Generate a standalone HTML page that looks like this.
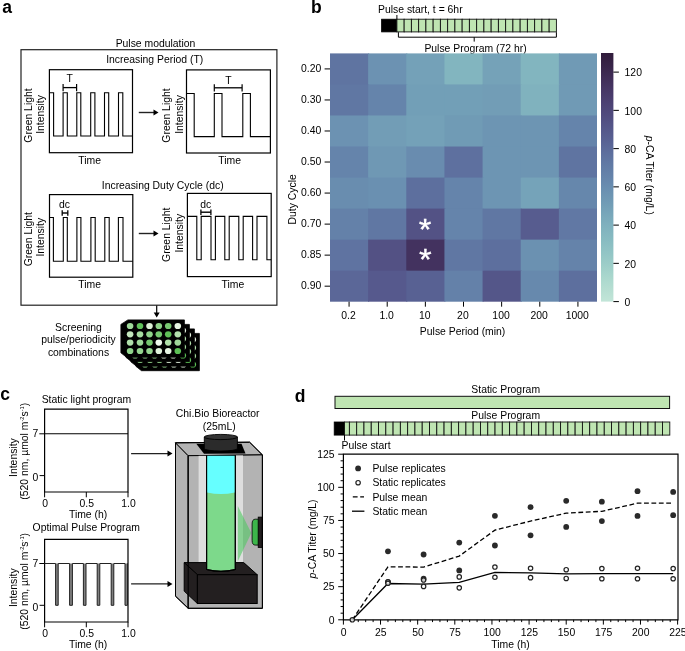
<!DOCTYPE html>
<html><head><meta charset="utf-8"><style>
html,body{margin:0;padding:0;background:#fff;width:685px;height:651px;overflow:hidden}
svg{display:block;will-change:transform}
text{font-family:"Liberation Sans",sans-serif}
</style></head><body>
<svg width="685" height="651" viewBox="0 0 685 651">
<text x="2.30" y="12.90" font-size="17.5" font-weight="bold">a</text>
<text x="155.50" y="46.60" text-anchor="middle" font-size="10.4">Pulse modulation</text>
<rect x="21.00" y="49.70" width="255.90" height="255.50" fill="none" stroke="#222" stroke-width="1.2"/>
<text x="154.70" y="63.00" text-anchor="middle" font-size="10.4">Increasing Period (T)</text>
<rect x="49.40" y="69.70" width="83.10" height="83.00" fill="none" stroke="#000" stroke-width="1.2"/>
<path d="M49.4,92.8 L53.6,92.8 L53.6,136.0 L63.1,136.0 L63.1,92.8 L67.3,92.8 L67.3,136.0 L76.8,136.0 L76.8,92.8 L80.8,92.8 L80.8,136.0 L90.7,136.0 L90.7,92.8 L94.9,92.8 L94.9,136.0 L104.5,136.0 L104.5,92.8 L108.7,92.8 L108.7,136.0 L118.5,136.0 L118.5,92.8 L122.8,92.8 L122.8,136.0 L132.5,136.0" fill="none" stroke="#000" stroke-width="1.1" stroke-linejoin="miter"/>
<line x1="63.10" y1="87.60" x2="76.60" y2="87.60" stroke="#000" stroke-width="1.3"/>
<line x1="63.10" y1="84.00" x2="63.10" y2="91.20" stroke="#000" stroke-width="1.2"/>
<line x1="76.60" y1="84.00" x2="76.60" y2="91.20" stroke="#000" stroke-width="1.2"/>
<text x="69.80" y="82.30" text-anchor="middle" font-size="10.4">T</text>
<text x="89.70" y="164.00" text-anchor="middle" font-size="10.4">Time</text>
<text transform="translate(31.70,115.50) rotate(-90)" text-anchor="middle" font-size="10.4">Green Light</text>
<text transform="translate(44.30,114.50) rotate(-90)" text-anchor="middle" font-size="10.4">Intensity</text>
<line x1="138.80" y1="112.50" x2="154.50" y2="112.50" stroke="#222" stroke-width="1.4"/>
<path d="M153.5,109.5 L158.5,112.5 L153.5,115.5 Z" fill="#000" stroke="none" stroke-width="1"/>
<rect x="186.50" y="69.90" width="83.90" height="83.10" fill="none" stroke="#000" stroke-width="1.2"/>
<path d="M186.5,93.5 L194.2,93.5 L194.2,136.6 L214.3,136.6 L214.3,93.5 L222.0,93.5 L222.0,136.6 L242.8,136.6 L242.8,93.5 L250.4,93.5 L250.4,136.6 L270.4,136.6" fill="none" stroke="#000" stroke-width="1.1" stroke-linejoin="miter"/>
<line x1="214.30" y1="87.80" x2="242.10" y2="87.80" stroke="#000" stroke-width="1.3"/>
<line x1="214.30" y1="84.20" x2="214.30" y2="91.40" stroke="#000" stroke-width="1.2"/>
<line x1="242.10" y1="84.20" x2="242.10" y2="91.40" stroke="#000" stroke-width="1.2"/>
<text x="228.50" y="83.90" text-anchor="middle" font-size="10.4">T</text>
<text x="229.60" y="164.00" text-anchor="middle" font-size="10.4">Time</text>
<text transform="translate(169.90,115.50) rotate(-90)" text-anchor="middle" font-size="10.4">Green Light</text>
<text transform="translate(182.50,114.50) rotate(-90)" text-anchor="middle" font-size="10.4">Intensity</text>
<text x="162.70" y="189.30" text-anchor="middle" font-size="10.4">Increasing Duty Cycle (dc)</text>
<rect x="49.50" y="194.60" width="83.30" height="82.60" fill="none" stroke="#000" stroke-width="1.2"/>
<path d="M49.5,217.5 L53.4,217.5 L53.4,261.3 L63.3,261.3 L63.3,217.5 L67.3,217.5 L67.3,261.3 L76.9,261.3 L76.9,217.5 L80.9,217.5 L80.9,261.3 L90.9,261.3 L90.9,217.5 L95.2,217.5 L95.2,261.3 L104.8,261.3 L104.8,217.5 L109.2,217.5 L109.2,261.3 L118.4,261.3 L118.4,217.5 L123.0,217.5 L123.0,261.3 L132.8,261.3" fill="none" stroke="#000" stroke-width="1.1" stroke-linejoin="miter"/>
<line x1="62.20" y1="213.00" x2="67.80" y2="213.00" stroke="#000" stroke-width="1.4"/>
<line x1="62.20" y1="210.20" x2="62.20" y2="215.80" stroke="#000" stroke-width="1.3"/>
<line x1="67.80" y1="210.20" x2="67.80" y2="215.80" stroke="#000" stroke-width="1.3"/>
<text x="64.60" y="208.40" text-anchor="middle" font-size="10.4">dc</text>
<text x="89.60" y="287.70" text-anchor="middle" font-size="10.4">Time</text>
<text transform="translate(31.70,239.20) rotate(-90)" text-anchor="middle" font-size="10.4">Green Light</text>
<text transform="translate(44.30,237.20) rotate(-90)" text-anchor="middle" font-size="10.4">Intensity</text>
<line x1="138.80" y1="233.50" x2="154.50" y2="233.50" stroke="#222" stroke-width="1.4"/>
<path d="M153.5,230.5 L158.5,233.5 L153.5,236.5 Z" fill="#000" stroke="none" stroke-width="1"/>
<rect x="187.40" y="193.40" width="83.80" height="83.20" fill="none" stroke="#000" stroke-width="1.2"/>
<path d="M187.4,216.4 L196.8,216.4 L196.8,259.8 L201.2,259.8 L201.2,216.4 L211.0,216.4 L211.0,259.8 L215.4,259.8 L215.4,216.4 L224.8,216.4 L224.8,259.8 L229.2,259.8 L229.2,216.4 L238.8,216.4 L238.8,259.8 L243.2,259.8 L243.2,216.4 L252.6,216.4 L252.6,259.8 L257.0,259.8 L257.0,216.4 L266.9,216.4 L266.9,259.8 L271.2,259.8" fill="none" stroke="#000" stroke-width="1.1" stroke-linejoin="miter"/>
<line x1="200.90" y1="212.20" x2="210.90" y2="212.20" stroke="#000" stroke-width="1.4"/>
<line x1="200.90" y1="209.40" x2="200.90" y2="215.00" stroke="#000" stroke-width="1.3"/>
<line x1="210.90" y1="209.40" x2="210.90" y2="215.00" stroke="#000" stroke-width="1.3"/>
<text x="205.80" y="207.90" text-anchor="middle" font-size="10.4">dc</text>
<text x="232.90" y="287.60" text-anchor="middle" font-size="10.4">Time</text>
<text transform="translate(169.90,234.80) rotate(-90)" text-anchor="middle" font-size="10.4">Green Light</text>
<text transform="translate(182.50,233.20) rotate(-90)" text-anchor="middle" font-size="10.4">Intensity</text>
<line x1="156.70" y1="305.60" x2="156.70" y2="313.50" stroke="#000" stroke-width="1.2"/>
<path d="M153.7,312.5 L156.7,317.5 L159.7,312.5 Z" fill="#000" stroke="none" stroke-width="1"/>
<text x="78.50" y="331.00" text-anchor="middle" font-size="10.4">Screening</text>
<text x="78.50" y="343.30" text-anchor="middle" font-size="10.4">pulse/periodicity</text>
<text x="78.50" y="355.70" text-anchor="middle" font-size="10.4">combinations</text>
<path d="M135.9,337.9 L142.9,333.4 L199.4,333.4 L199.4,370.7 L141.5,370.7 L135.9,366.3 Z" fill="#000" stroke="#000" stroke-width="0.8"/>
<ellipse cx="145.10" cy="339.50" rx="3.3" ry="3.1" fill="#9fd99a"/>
<ellipse cx="155.00" cy="339.50" rx="3.3" ry="3.1" fill="#5fc15a"/>
<ellipse cx="164.50" cy="339.50" rx="3.3" ry="3.1" fill="#dcf0d6"/>
<ellipse cx="173.80" cy="339.50" rx="3.3" ry="3.1" fill="#8fd38a"/>
<ellipse cx="183.20" cy="339.50" rx="3.3" ry="3.1" fill="#78c972"/>
<ellipse cx="192.80" cy="339.50" rx="3.3" ry="3.1" fill="#e6f4e2"/>
<ellipse cx="145.10" cy="347.80" rx="3.3" ry="3.1" fill="#c3e7bd"/>
<ellipse cx="155.00" cy="347.80" rx="3.3" ry="3.1" fill="#a6dca0"/>
<ellipse cx="164.50" cy="347.80" rx="3.3" ry="3.1" fill="#8fd38a"/>
<ellipse cx="173.80" cy="347.80" rx="3.3" ry="3.1" fill="#76c970"/>
<ellipse cx="183.20" cy="347.80" rx="3.3" ry="3.1" fill="#5fc057"/>
<ellipse cx="192.80" cy="347.80" rx="3.3" ry="3.1" fill="#b3e1ad"/>
<ellipse cx="145.10" cy="356.10" rx="3.3" ry="3.1" fill="#b0e0aa"/>
<ellipse cx="155.00" cy="356.10" rx="3.3" ry="3.1" fill="#9ed898"/>
<ellipse cx="164.50" cy="356.10" rx="3.3" ry="3.1" fill="#74c66d"/>
<ellipse cx="173.80" cy="356.10" rx="3.3" ry="3.1" fill="#eef8ec"/>
<ellipse cx="183.20" cy="356.10" rx="3.3" ry="3.1" fill="#b0e0a9"/>
<ellipse cx="192.80" cy="356.10" rx="3.3" ry="3.1" fill="#9fd698"/>
<ellipse cx="145.10" cy="364.50" rx="3.3" ry="3.1" fill="#8fd48a"/>
<ellipse cx="155.00" cy="364.50" rx="3.3" ry="3.1" fill="#94d58e"/>
<ellipse cx="164.50" cy="364.50" rx="3.3" ry="3.1" fill="#94d58e"/>
<ellipse cx="173.80" cy="364.50" rx="3.3" ry="3.1" fill="#dff2db"/>
<ellipse cx="183.20" cy="364.50" rx="3.3" ry="3.1" fill="#e6f4e2"/>
<ellipse cx="192.80" cy="364.50" rx="3.3" ry="3.1" fill="#5cbf55"/>
<path d="M130.9,333.4 L137.9,328.9 L194.4,328.9 L194.4,366.2 L136.5,366.2 L130.9,361.8 Z" fill="#000" stroke="#000" stroke-width="0.8"/>
<ellipse cx="140.10" cy="335.00" rx="3.3" ry="3.1" fill="#9fd99a"/>
<ellipse cx="150.00" cy="335.00" rx="3.3" ry="3.1" fill="#5fc15a"/>
<ellipse cx="159.50" cy="335.00" rx="3.3" ry="3.1" fill="#dcf0d6"/>
<ellipse cx="168.80" cy="335.00" rx="3.3" ry="3.1" fill="#8fd38a"/>
<ellipse cx="178.20" cy="335.00" rx="3.3" ry="3.1" fill="#78c972"/>
<ellipse cx="187.80" cy="335.00" rx="3.3" ry="3.1" fill="#e6f4e2"/>
<ellipse cx="140.10" cy="343.30" rx="3.3" ry="3.1" fill="#c3e7bd"/>
<ellipse cx="150.00" cy="343.30" rx="3.3" ry="3.1" fill="#a6dca0"/>
<ellipse cx="159.50" cy="343.30" rx="3.3" ry="3.1" fill="#8fd38a"/>
<ellipse cx="168.80" cy="343.30" rx="3.3" ry="3.1" fill="#76c970"/>
<ellipse cx="178.20" cy="343.30" rx="3.3" ry="3.1" fill="#5fc057"/>
<ellipse cx="187.80" cy="343.30" rx="3.3" ry="3.1" fill="#b3e1ad"/>
<ellipse cx="140.10" cy="351.60" rx="3.3" ry="3.1" fill="#b0e0aa"/>
<ellipse cx="150.00" cy="351.60" rx="3.3" ry="3.1" fill="#9ed898"/>
<ellipse cx="159.50" cy="351.60" rx="3.3" ry="3.1" fill="#74c66d"/>
<ellipse cx="168.80" cy="351.60" rx="3.3" ry="3.1" fill="#eef8ec"/>
<ellipse cx="178.20" cy="351.60" rx="3.3" ry="3.1" fill="#b0e0a9"/>
<ellipse cx="187.80" cy="351.60" rx="3.3" ry="3.1" fill="#9fd698"/>
<ellipse cx="140.10" cy="360.00" rx="3.3" ry="3.1" fill="#8fd48a"/>
<ellipse cx="150.00" cy="360.00" rx="3.3" ry="3.1" fill="#94d58e"/>
<ellipse cx="159.50" cy="360.00" rx="3.3" ry="3.1" fill="#94d58e"/>
<ellipse cx="168.80" cy="360.00" rx="3.3" ry="3.1" fill="#dff2db"/>
<ellipse cx="178.20" cy="360.00" rx="3.3" ry="3.1" fill="#e6f4e2"/>
<ellipse cx="187.80" cy="360.00" rx="3.3" ry="3.1" fill="#5cbf55"/>
<path d="M125.9,328.9 L132.9,324.4 L189.4,324.4 L189.4,361.7 L131.5,361.7 L125.9,357.3 Z" fill="#000" stroke="#000" stroke-width="0.8"/>
<ellipse cx="135.10" cy="330.50" rx="3.3" ry="3.1" fill="#9fd99a"/>
<ellipse cx="145.00" cy="330.50" rx="3.3" ry="3.1" fill="#5fc15a"/>
<ellipse cx="154.50" cy="330.50" rx="3.3" ry="3.1" fill="#dcf0d6"/>
<ellipse cx="163.80" cy="330.50" rx="3.3" ry="3.1" fill="#8fd38a"/>
<ellipse cx="173.20" cy="330.50" rx="3.3" ry="3.1" fill="#78c972"/>
<ellipse cx="182.80" cy="330.50" rx="3.3" ry="3.1" fill="#e6f4e2"/>
<ellipse cx="135.10" cy="338.80" rx="3.3" ry="3.1" fill="#c3e7bd"/>
<ellipse cx="145.00" cy="338.80" rx="3.3" ry="3.1" fill="#a6dca0"/>
<ellipse cx="154.50" cy="338.80" rx="3.3" ry="3.1" fill="#8fd38a"/>
<ellipse cx="163.80" cy="338.80" rx="3.3" ry="3.1" fill="#76c970"/>
<ellipse cx="173.20" cy="338.80" rx="3.3" ry="3.1" fill="#5fc057"/>
<ellipse cx="182.80" cy="338.80" rx="3.3" ry="3.1" fill="#b3e1ad"/>
<ellipse cx="135.10" cy="347.10" rx="3.3" ry="3.1" fill="#b0e0aa"/>
<ellipse cx="145.00" cy="347.10" rx="3.3" ry="3.1" fill="#9ed898"/>
<ellipse cx="154.50" cy="347.10" rx="3.3" ry="3.1" fill="#74c66d"/>
<ellipse cx="163.80" cy="347.10" rx="3.3" ry="3.1" fill="#eef8ec"/>
<ellipse cx="173.20" cy="347.10" rx="3.3" ry="3.1" fill="#b0e0a9"/>
<ellipse cx="182.80" cy="347.10" rx="3.3" ry="3.1" fill="#9fd698"/>
<ellipse cx="135.10" cy="355.50" rx="3.3" ry="3.1" fill="#8fd48a"/>
<ellipse cx="145.00" cy="355.50" rx="3.3" ry="3.1" fill="#94d58e"/>
<ellipse cx="154.50" cy="355.50" rx="3.3" ry="3.1" fill="#94d58e"/>
<ellipse cx="163.80" cy="355.50" rx="3.3" ry="3.1" fill="#dff2db"/>
<ellipse cx="173.20" cy="355.50" rx="3.3" ry="3.1" fill="#e6f4e2"/>
<ellipse cx="182.80" cy="355.50" rx="3.3" ry="3.1" fill="#5cbf55"/>
<path d="M120.9,324.4 L127.9,319.9 L184.4,319.9 L184.4,357.2 L126.5,357.2 L120.9,352.8 Z" fill="#000" stroke="#000" stroke-width="0.8"/>
<ellipse cx="130.10" cy="326.00" rx="3.3" ry="3.1" fill="#9fd99a"/>
<ellipse cx="140.00" cy="326.00" rx="3.3" ry="3.1" fill="#5fc15a"/>
<ellipse cx="149.50" cy="326.00" rx="3.3" ry="3.1" fill="#dcf0d6"/>
<ellipse cx="158.80" cy="326.00" rx="3.3" ry="3.1" fill="#8fd38a"/>
<ellipse cx="168.20" cy="326.00" rx="3.3" ry="3.1" fill="#78c972"/>
<ellipse cx="177.80" cy="326.00" rx="3.3" ry="3.1" fill="#e6f4e2"/>
<ellipse cx="130.10" cy="334.30" rx="3.3" ry="3.1" fill="#c3e7bd"/>
<ellipse cx="140.00" cy="334.30" rx="3.3" ry="3.1" fill="#a6dca0"/>
<ellipse cx="149.50" cy="334.30" rx="3.3" ry="3.1" fill="#8fd38a"/>
<ellipse cx="158.80" cy="334.30" rx="3.3" ry="3.1" fill="#76c970"/>
<ellipse cx="168.20" cy="334.30" rx="3.3" ry="3.1" fill="#5fc057"/>
<ellipse cx="177.80" cy="334.30" rx="3.3" ry="3.1" fill="#b3e1ad"/>
<ellipse cx="130.10" cy="342.60" rx="3.3" ry="3.1" fill="#b0e0aa"/>
<ellipse cx="140.00" cy="342.60" rx="3.3" ry="3.1" fill="#9ed898"/>
<ellipse cx="149.50" cy="342.60" rx="3.3" ry="3.1" fill="#74c66d"/>
<ellipse cx="158.80" cy="342.60" rx="3.3" ry="3.1" fill="#eef8ec"/>
<ellipse cx="168.20" cy="342.60" rx="3.3" ry="3.1" fill="#b0e0a9"/>
<ellipse cx="177.80" cy="342.60" rx="3.3" ry="3.1" fill="#9fd698"/>
<ellipse cx="130.10" cy="351.00" rx="3.3" ry="3.1" fill="#8fd48a"/>
<ellipse cx="140.00" cy="351.00" rx="3.3" ry="3.1" fill="#94d58e"/>
<ellipse cx="149.50" cy="351.00" rx="3.3" ry="3.1" fill="#94d58e"/>
<ellipse cx="158.80" cy="351.00" rx="3.3" ry="3.1" fill="#dff2db"/>
<ellipse cx="168.20" cy="351.00" rx="3.3" ry="3.1" fill="#e6f4e2"/>
<ellipse cx="177.80" cy="351.00" rx="3.3" ry="3.1" fill="#5cbf55"/>
<text x="311.00" y="13.00" font-size="17.5" font-weight="bold">b</text>
<text x="378.00" y="13.10" font-size="10.4">Pulse start, t = 6hr</text>
<line x1="396.90" y1="15.00" x2="396.90" y2="19.50" stroke="#000" stroke-width="1.0"/>
<rect x="381.60" y="19.20" width="15.30" height="12.70" fill="#000" stroke="#000" stroke-width="0.8"/>
<rect x="396.90" y="19.20" width="7.25" height="12.70" fill="#bfe5b2" stroke="#111" stroke-width="0.9"/>
<rect x="404.15" y="19.20" width="7.25" height="12.70" fill="#bfe5b2" stroke="#111" stroke-width="0.9"/>
<rect x="411.40" y="19.20" width="7.25" height="12.70" fill="#bfe5b2" stroke="#111" stroke-width="0.9"/>
<rect x="418.65" y="19.20" width="7.25" height="12.70" fill="#bfe5b2" stroke="#111" stroke-width="0.9"/>
<rect x="425.90" y="19.20" width="7.25" height="12.70" fill="#bfe5b2" stroke="#111" stroke-width="0.9"/>
<rect x="433.15" y="19.20" width="7.25" height="12.70" fill="#bfe5b2" stroke="#111" stroke-width="0.9"/>
<rect x="440.40" y="19.20" width="7.25" height="12.70" fill="#bfe5b2" stroke="#111" stroke-width="0.9"/>
<rect x="447.65" y="19.20" width="7.25" height="12.70" fill="#bfe5b2" stroke="#111" stroke-width="0.9"/>
<rect x="454.90" y="19.20" width="7.25" height="12.70" fill="#bfe5b2" stroke="#111" stroke-width="0.9"/>
<rect x="462.15" y="19.20" width="7.25" height="12.70" fill="#bfe5b2" stroke="#111" stroke-width="0.9"/>
<rect x="469.40" y="19.20" width="7.25" height="12.70" fill="#bfe5b2" stroke="#111" stroke-width="0.9"/>
<rect x="476.65" y="19.20" width="7.25" height="12.70" fill="#bfe5b2" stroke="#111" stroke-width="0.9"/>
<rect x="483.90" y="19.20" width="7.25" height="12.70" fill="#bfe5b2" stroke="#111" stroke-width="0.9"/>
<rect x="491.15" y="19.20" width="7.25" height="12.70" fill="#bfe5b2" stroke="#111" stroke-width="0.9"/>
<rect x="498.40" y="19.20" width="7.25" height="12.70" fill="#bfe5b2" stroke="#111" stroke-width="0.9"/>
<rect x="505.65" y="19.20" width="7.25" height="12.70" fill="#bfe5b2" stroke="#111" stroke-width="0.9"/>
<rect x="512.90" y="19.20" width="7.25" height="12.70" fill="#bfe5b2" stroke="#111" stroke-width="0.9"/>
<rect x="520.15" y="19.20" width="7.25" height="12.70" fill="#bfe5b2" stroke="#111" stroke-width="0.9"/>
<rect x="527.40" y="19.20" width="7.25" height="12.70" fill="#bfe5b2" stroke="#111" stroke-width="0.9"/>
<rect x="534.65" y="19.20" width="7.25" height="12.70" fill="#bfe5b2" stroke="#111" stroke-width="0.9"/>
<rect x="541.90" y="19.20" width="7.25" height="12.70" fill="#bfe5b2" stroke="#111" stroke-width="0.9"/>
<rect x="549.15" y="19.20" width="7.25" height="12.70" fill="#bfe5b2" stroke="#111" stroke-width="0.9"/>
<path d="M398.4,32.2 L398.4,37.2 L556.4,37.2 L556.4,32.2" fill="none" stroke="#000" stroke-width="1.0"/>
<line x1="474.20" y1="37.20" x2="474.20" y2="41.60" stroke="#000" stroke-width="1.0"/>
<text x="475.50" y="51.80" text-anchor="middle" font-size="10.4">Pulse Program (72 hr)</text>
<rect x="330.00" y="53.40" width="39.14" height="32.04" fill="#5f74a1" stroke="none" stroke-width="1"/>
<rect x="368.14" y="53.40" width="39.14" height="32.04" fill="#6c92b2" stroke="none" stroke-width="1"/>
<rect x="406.29" y="53.40" width="39.14" height="32.04" fill="#74a1b8" stroke="none" stroke-width="1"/>
<rect x="444.43" y="53.40" width="39.14" height="32.04" fill="#82b5bf" stroke="none" stroke-width="1"/>
<rect x="482.57" y="53.40" width="39.14" height="32.04" fill="#75a2b8" stroke="none" stroke-width="1"/>
<rect x="520.71" y="53.40" width="39.14" height="32.04" fill="#82b5bf" stroke="none" stroke-width="1"/>
<rect x="558.86" y="53.40" width="38.14" height="32.04" fill="#709ab5" stroke="none" stroke-width="1"/>
<rect x="330.00" y="84.44" width="39.14" height="32.04" fill="#6077a3" stroke="none" stroke-width="1"/>
<rect x="368.14" y="84.44" width="39.14" height="32.04" fill="#6584ab" stroke="none" stroke-width="1"/>
<rect x="406.29" y="84.44" width="39.14" height="32.04" fill="#729fb7" stroke="none" stroke-width="1"/>
<rect x="444.43" y="84.44" width="39.14" height="32.04" fill="#729fb7" stroke="none" stroke-width="1"/>
<rect x="482.57" y="84.44" width="39.14" height="32.04" fill="#729db6" stroke="none" stroke-width="1"/>
<rect x="520.71" y="84.44" width="39.14" height="32.04" fill="#80b2be" stroke="none" stroke-width="1"/>
<rect x="558.86" y="84.44" width="38.14" height="32.04" fill="#709ab5" stroke="none" stroke-width="1"/>
<rect x="330.00" y="115.47" width="39.14" height="32.04" fill="#6c92b2" stroke="none" stroke-width="1"/>
<rect x="368.14" y="115.47" width="39.14" height="32.04" fill="#729db6" stroke="none" stroke-width="1"/>
<rect x="406.29" y="115.47" width="39.14" height="32.04" fill="#74a1b8" stroke="none" stroke-width="1"/>
<rect x="444.43" y="115.47" width="39.14" height="32.04" fill="#709bb5" stroke="none" stroke-width="1"/>
<rect x="482.57" y="115.47" width="39.14" height="32.04" fill="#6d95b3" stroke="none" stroke-width="1"/>
<rect x="520.71" y="115.47" width="39.14" height="32.04" fill="#6d95b3" stroke="none" stroke-width="1"/>
<rect x="558.86" y="115.47" width="38.14" height="32.04" fill="#6584ab" stroke="none" stroke-width="1"/>
<rect x="330.00" y="146.51" width="39.14" height="32.04" fill="#6584ab" stroke="none" stroke-width="1"/>
<rect x="368.14" y="146.51" width="39.14" height="32.04" fill="#6f98b4" stroke="none" stroke-width="1"/>
<rect x="406.29" y="146.51" width="39.14" height="32.04" fill="#698caf" stroke="none" stroke-width="1"/>
<rect x="444.43" y="146.51" width="39.14" height="32.04" fill="#5e709f" stroke="none" stroke-width="1"/>
<rect x="482.57" y="146.51" width="39.14" height="32.04" fill="#6d95b3" stroke="none" stroke-width="1"/>
<rect x="520.71" y="146.51" width="39.14" height="32.04" fill="#6d95b3" stroke="none" stroke-width="1"/>
<rect x="558.86" y="146.51" width="38.14" height="32.04" fill="#5f74a1" stroke="none" stroke-width="1"/>
<rect x="330.00" y="177.55" width="39.14" height="32.04" fill="#698daf" stroke="none" stroke-width="1"/>
<rect x="368.14" y="177.55" width="39.14" height="32.04" fill="#6a90b1" stroke="none" stroke-width="1"/>
<rect x="406.29" y="177.55" width="39.14" height="32.04" fill="#5d6f9e" stroke="none" stroke-width="1"/>
<rect x="444.43" y="177.55" width="39.14" height="32.04" fill="#6584ab" stroke="none" stroke-width="1"/>
<rect x="482.57" y="177.55" width="39.14" height="32.04" fill="#6d95b3" stroke="none" stroke-width="1"/>
<rect x="520.71" y="177.55" width="39.14" height="32.04" fill="#75a3b9" stroke="none" stroke-width="1"/>
<rect x="558.86" y="177.55" width="38.14" height="32.04" fill="#6687ac" stroke="none" stroke-width="1"/>
<rect x="330.00" y="208.59" width="39.14" height="32.04" fill="#6481a9" stroke="none" stroke-width="1"/>
<rect x="368.14" y="208.59" width="39.14" height="32.04" fill="#6077a3" stroke="none" stroke-width="1"/>
<rect x="406.29" y="208.59" width="39.14" height="32.04" fill="#535285" stroke="none" stroke-width="1"/>
<rect x="444.43" y="208.59" width="39.14" height="32.04" fill="#6584ab" stroke="none" stroke-width="1"/>
<rect x="482.57" y="208.59" width="39.14" height="32.04" fill="#6077a3" stroke="none" stroke-width="1"/>
<rect x="520.71" y="208.59" width="39.14" height="32.04" fill="#575c8f" stroke="none" stroke-width="1"/>
<rect x="558.86" y="208.59" width="38.14" height="32.04" fill="#6178a4" stroke="none" stroke-width="1"/>
<rect x="330.00" y="239.63" width="39.14" height="32.04" fill="#5f73a1" stroke="none" stroke-width="1"/>
<rect x="368.14" y="239.63" width="39.14" height="32.04" fill="#535184" stroke="none" stroke-width="1"/>
<rect x="406.29" y="239.63" width="39.14" height="32.04" fill="#43325f" stroke="none" stroke-width="1"/>
<rect x="444.43" y="239.63" width="39.14" height="32.04" fill="#6077a3" stroke="none" stroke-width="1"/>
<rect x="482.57" y="239.63" width="39.14" height="32.04" fill="#5d6f9e" stroke="none" stroke-width="1"/>
<rect x="520.71" y="239.63" width="39.14" height="32.04" fill="#6b91b1" stroke="none" stroke-width="1"/>
<rect x="558.86" y="239.63" width="38.14" height="32.04" fill="#6583aa" stroke="none" stroke-width="1"/>
<rect x="330.00" y="270.66" width="39.14" height="31.04" fill="#5b6798" stroke="none" stroke-width="1"/>
<rect x="368.14" y="270.66" width="39.14" height="31.04" fill="#56598d" stroke="none" stroke-width="1"/>
<rect x="406.29" y="270.66" width="39.14" height="31.04" fill="#586193" stroke="none" stroke-width="1"/>
<rect x="444.43" y="270.66" width="39.14" height="31.04" fill="#6481a9" stroke="none" stroke-width="1"/>
<rect x="482.57" y="270.66" width="39.14" height="31.04" fill="#545689" stroke="none" stroke-width="1"/>
<rect x="520.71" y="270.66" width="39.14" height="31.04" fill="#6789ad" stroke="none" stroke-width="1"/>
<rect x="558.86" y="270.66" width="38.14" height="31.04" fill="#5d6f9e" stroke="none" stroke-width="1"/>
<text transform="translate(425.05,223.3) scale(1,0.92)" x="0" y="16.90" text-anchor="middle" font-size="32.5" fill="#fff" stroke="#fff" stroke-width="0.35">*</text>
<text transform="translate(425.3,253.0) scale(1,0.92)" x="0" y="16.90" text-anchor="middle" font-size="32.5" fill="#fff" stroke="#fff" stroke-width="0.35">*</text>
<line x1="324.60" y1="68.92" x2="330.00" y2="68.92" stroke="#000" stroke-width="1.0"/>
<text x="321.30" y="71.92" text-anchor="end" font-size="10.4">0.20</text>
<line x1="324.60" y1="99.96" x2="330.00" y2="99.96" stroke="#000" stroke-width="1.0"/>
<text x="321.30" y="102.96" text-anchor="end" font-size="10.4">0.30</text>
<line x1="324.60" y1="130.99" x2="330.00" y2="130.99" stroke="#000" stroke-width="1.0"/>
<text x="321.30" y="133.99" text-anchor="end" font-size="10.4">0.40</text>
<line x1="324.60" y1="162.03" x2="330.00" y2="162.03" stroke="#000" stroke-width="1.0"/>
<text x="321.30" y="165.03" text-anchor="end" font-size="10.4">0.50</text>
<line x1="324.60" y1="193.07" x2="330.00" y2="193.07" stroke="#000" stroke-width="1.0"/>
<text x="321.30" y="196.07" text-anchor="end" font-size="10.4">0.60</text>
<line x1="324.60" y1="224.11" x2="330.00" y2="224.11" stroke="#000" stroke-width="1.0"/>
<text x="321.30" y="227.11" text-anchor="end" font-size="10.4">0.70</text>
<line x1="324.60" y1="255.14" x2="330.00" y2="255.14" stroke="#000" stroke-width="1.0"/>
<text x="321.30" y="258.14" text-anchor="end" font-size="10.4">0.85</text>
<line x1="324.60" y1="286.18" x2="330.00" y2="286.18" stroke="#000" stroke-width="1.0"/>
<text x="321.30" y="289.18" text-anchor="end" font-size="10.4">0.90</text>
<line x1="349.07" y1="301.70" x2="349.07" y2="306.70" stroke="#000" stroke-width="1.0"/>
<text x="348.47" y="319.20" text-anchor="middle" font-size="10.4">0.2</text>
<line x1="387.21" y1="301.70" x2="387.21" y2="306.70" stroke="#000" stroke-width="1.0"/>
<text x="386.61" y="319.20" text-anchor="middle" font-size="10.4">1.0</text>
<line x1="425.36" y1="301.70" x2="425.36" y2="306.70" stroke="#000" stroke-width="1.0"/>
<text x="424.76" y="319.20" text-anchor="middle" font-size="10.4">10</text>
<line x1="463.50" y1="301.70" x2="463.50" y2="306.70" stroke="#000" stroke-width="1.0"/>
<text x="462.90" y="319.20" text-anchor="middle" font-size="10.4">20</text>
<line x1="501.64" y1="301.70" x2="501.64" y2="306.70" stroke="#000" stroke-width="1.0"/>
<text x="501.04" y="319.20" text-anchor="middle" font-size="10.4">100</text>
<line x1="539.79" y1="301.70" x2="539.79" y2="306.70" stroke="#000" stroke-width="1.0"/>
<text x="539.19" y="319.20" text-anchor="middle" font-size="10.4">200</text>
<line x1="577.93" y1="301.70" x2="577.93" y2="306.70" stroke="#000" stroke-width="1.0"/>
<text x="577.33" y="319.20" text-anchor="middle" font-size="10.4">1000</text>
<text transform="translate(295.70,199.30) rotate(-90)" text-anchor="middle" font-size="10.4">Duty Cycle</text>
<text x="462.60" y="335.30" text-anchor="middle" font-size="10.4">Pulse Period (min)</text>
<defs><linearGradient id="cb" x1="0" y1="0" x2="0" y2="1"><stop offset="0.00" stop-color="#311c3b"/><stop offset="0.05" stop-color="#382448"/><stop offset="0.10" stop-color="#402d57"/><stop offset="0.15" stop-color="#473766"/><stop offset="0.20" stop-color="#4c4173"/><stop offset="0.25" stop-color="#504b7e"/><stop offset="0.30" stop-color="#545689"/><stop offset="0.35" stop-color="#586193"/><stop offset="0.40" stop-color="#5d6e9d"/><stop offset="0.45" stop-color="#617aa5"/><stop offset="0.50" stop-color="#6584ab"/><stop offset="0.55" stop-color="#6a90b1"/><stop offset="0.60" stop-color="#709bb5"/><stop offset="0.65" stop-color="#78a7ba"/><stop offset="0.70" stop-color="#80b2be"/><stop offset="0.75" stop-color="#87bbc1"/><stop offset="0.80" stop-color="#91c4c5"/><stop offset="0.85" stop-color="#9ccdc8"/><stop offset="0.90" stop-color="#a9d7cd"/><stop offset="0.95" stop-color="#b6ded2"/><stop offset="1.00" stop-color="#c2e5d8"/></linearGradient></defs>
<rect x="601.00" y="53.00" width="12.40" height="248.60" fill="url(#cb)" stroke="none" stroke-width="1"/>
<line x1="613.40" y1="301.60" x2="618.90" y2="301.60" stroke="#000" stroke-width="1.0"/>
<text x="624.60" y="305.90" font-size="10.4">0</text>
<line x1="613.40" y1="263.35" x2="618.90" y2="263.35" stroke="#000" stroke-width="1.0"/>
<text x="624.60" y="267.65" font-size="10.4">20</text>
<line x1="613.40" y1="225.11" x2="618.90" y2="225.11" stroke="#000" stroke-width="1.0"/>
<text x="624.60" y="229.41" font-size="10.4">40</text>
<line x1="613.40" y1="186.86" x2="618.90" y2="186.86" stroke="#000" stroke-width="1.0"/>
<text x="624.60" y="191.16" font-size="10.4">60</text>
<line x1="613.40" y1="148.62" x2="618.90" y2="148.62" stroke="#000" stroke-width="1.0"/>
<text x="624.60" y="152.92" font-size="10.4">80</text>
<line x1="613.40" y1="110.37" x2="618.90" y2="110.37" stroke="#000" stroke-width="1.0"/>
<text x="624.60" y="114.67" font-size="10.4">100</text>
<line x1="613.40" y1="72.12" x2="618.90" y2="72.12" stroke="#000" stroke-width="1.0"/>
<text x="624.60" y="76.42" font-size="10.4">120</text>
<text transform="translate(646.20,175.30) rotate(90)" text-anchor="middle" font-size="10.4"><tspan font-style="italic">p</tspan>-CA Titer (mg/L)</text>
<text x="0.20" y="399.60" font-size="17.5" font-weight="bold">c</text>
<text x="86.40" y="402.60" text-anchor="middle" font-size="10.4">Static light program</text>
<path d="M44.6,409.2 L128.0,409.2 L128.0,492.0 L44.6,492.0 Z" fill="none" stroke="#000" stroke-width="1.2"/>
<line x1="39.30" y1="433.80" x2="44.60" y2="433.80" stroke="#000" stroke-width="1.0"/>
<line x1="39.60" y1="475.60" x2="44.60" y2="475.60" stroke="#000" stroke-width="1.0"/>
<text x="38.30" y="437.20" text-anchor="end" font-size="10.4">7</text>
<text x="38.30" y="480.80" text-anchor="end" font-size="10.4">0</text>
<line x1="44.60" y1="492.00" x2="44.60" y2="497.30" stroke="#000" stroke-width="1.0"/>
<text x="45.10" y="507.20" text-anchor="middle" font-size="10.4">0</text>
<line x1="86.30" y1="492.00" x2="86.30" y2="497.30" stroke="#000" stroke-width="1.0"/>
<text x="86.80" y="507.20" text-anchor="middle" font-size="10.4">0.5</text>
<line x1="128.00" y1="492.00" x2="128.00" y2="497.30" stroke="#000" stroke-width="1.0"/>
<text x="128.50" y="507.20" text-anchor="middle" font-size="10.4">1.0</text>
<text x="88.10" y="517.60" text-anchor="middle" font-size="10.4">Time (h)</text>
<line x1="44.60" y1="433.80" x2="128.00" y2="433.80" stroke="#000" stroke-width="1.1"/>
<text transform="translate(16.80,457.60) rotate(-90)" text-anchor="middle" font-size="10.4">Intensity</text>
<text transform="translate(27.60,451.30) rotate(-90)" text-anchor="middle" font-size="10.4">(520 nm, µmol m<tspan font-size="5.6" dy="-3.6">-2</tspan><tspan dy="3.6">s</tspan><tspan font-size="5.6" dy="-3.6">-1</tspan><tspan dy="3.6">)</tspan></text>
<text x="86.30" y="531.00" text-anchor="middle" font-size="10.4">Optimal Pulse Program</text>
<path d="M44.6,539.4 L128.0,539.4 L128.0,622.0 L44.6,622.0 Z" fill="none" stroke="#000" stroke-width="1.2"/>
<line x1="39.30" y1="563.50" x2="44.60" y2="563.50" stroke="#000" stroke-width="1.0"/>
<line x1="39.60" y1="605.30" x2="44.60" y2="605.30" stroke="#000" stroke-width="1.0"/>
<text x="38.30" y="566.90" text-anchor="end" font-size="10.4">7</text>
<text x="38.30" y="610.50" text-anchor="end" font-size="10.4">0</text>
<line x1="44.60" y1="622.00" x2="44.60" y2="627.30" stroke="#000" stroke-width="1.0"/>
<text x="45.10" y="637.20" text-anchor="middle" font-size="10.4">0</text>
<line x1="86.30" y1="622.00" x2="86.30" y2="627.30" stroke="#000" stroke-width="1.0"/>
<text x="86.80" y="637.20" text-anchor="middle" font-size="10.4">0.5</text>
<line x1="128.00" y1="622.00" x2="128.00" y2="627.30" stroke="#000" stroke-width="1.0"/>
<text x="128.50" y="637.20" text-anchor="middle" font-size="10.4">1.0</text>
<text x="88.10" y="647.60" text-anchor="middle" font-size="10.4">Time (h)</text>
<rect x="55.60" y="563.50" width="2.60" height="41.80" fill="#808080" stroke="none" stroke-width="1"/>
<rect x="69.60" y="563.50" width="2.80" height="41.80" fill="#808080" stroke="none" stroke-width="1"/>
<rect x="83.40" y="563.50" width="2.60" height="41.80" fill="#808080" stroke="none" stroke-width="1"/>
<rect x="97.20" y="563.50" width="2.60" height="41.80" fill="#808080" stroke="none" stroke-width="1"/>
<rect x="111.20" y="563.50" width="2.60" height="41.80" fill="#808080" stroke="none" stroke-width="1"/>
<rect x="125.00" y="563.50" width="2.50" height="41.80" fill="#808080" stroke="none" stroke-width="1"/>
<path d="M44.6,563.5 L55.6,563.5 L55.6,605.3 L58.2,605.3 L58.2,563.5 L69.6,563.5 L69.6,605.3 L72.4,605.3 L72.4,563.5 L83.4,563.5 L83.4,605.3 L86.0,605.3 L86.0,563.5 L97.2,563.5 L97.2,605.3 L99.8,605.3 L99.8,563.5 L111.2,563.5 L111.2,605.3 L113.8,605.3 L113.8,563.5 L125.0,563.5 L125.0,605.3 L127.5,605.3 L127.5,563.5 L128.0,563.5" fill="none" stroke="#222" stroke-width="1.0"/>
<text transform="translate(16.80,587.70) rotate(-90)" text-anchor="middle" font-size="10.4">Intensity</text>
<text transform="translate(27.60,581.40) rotate(-90)" text-anchor="middle" font-size="10.4">(520 nm, µmol m<tspan font-size="5.6" dy="-3.6">-2</tspan><tspan dy="3.6">s</tspan><tspan font-size="5.6" dy="-3.6">-1</tspan><tspan dy="3.6">)</tspan></text>
<line x1="131.10" y1="453.60" x2="168.50" y2="453.60" stroke="#222" stroke-width="1.4"/>
<path d="M167.5,450.6 L172.5,453.6 L167.5,456.6 Z" fill="#000" stroke="none" stroke-width="1"/>
<line x1="131.10" y1="583.90" x2="168.50" y2="583.90" stroke="#222" stroke-width="1.4"/>
<path d="M167.5,580.9 L172.5,583.9 L167.5,586.9 Z" fill="#000" stroke="none" stroke-width="1"/>
<text x="217.70" y="417.40" text-anchor="middle" font-size="10.4">Chi.Bio Bioreactor</text>
<text x="219.20" y="430.10" text-anchor="middle" font-size="10.4">(25mL)</text>
<path d="M175.5,442.8 L188.2,455.7 L188.2,608.3 L175.5,596.2 Z" fill="#b3b3b3" stroke="#000" stroke-width="1.0"/>
<path d="M175.5,442.8 L249.6,442.2 L262.4,454.9 L188.2,455.7 Z" fill="#b3b3b3" stroke="#000" stroke-width="1.0"/>
<path d="M188.2,455.7 L262.4,454.9 L262.4,608.3 L188.2,608.3 Z" fill="#b3b3b3" stroke="#000" stroke-width="1.0"/>
<rect x="198.60" y="455.80" width="8.00" height="120.00" fill="#dedede" stroke="none" stroke-width="1"/>
<rect x="235.60" y="455.40" width="7.40" height="120.00" fill="#dedede" stroke="none" stroke-width="1"/>
<path d="M196.3,443.7 L241.5,443.7 L245.5,453.5 L204.0,453.7 Z" fill="#000" stroke="none" stroke-width="1"/>
<path d="M184.2,562.6 L243.7,562.6 L257.2,574.7 L197.4,574.7 Z" fill="#231f20" stroke="#000" stroke-width="1.0"/>
<path d="M184.2,562.6 L197.4,574.7 L197.4,603.5 L184.2,591.1 Z" fill="#231f20" stroke="#000" stroke-width="1.0"/>
<rect x="197.40" y="574.70" width="59.80" height="28.80" fill="#231f20" stroke="#000" stroke-width="1.0"/>
<path d="M206.6,455.6 L206.6,569.5 Q220.95,573.2 235.3,569.5 L235.3,455.6 Z" fill="#7dd98b" stroke="#000" stroke-width="1.1"/>
<path d="M207.1,455.8 L207.1,492.5 Q220.95,495.5 234.8,492.5 L234.8,455.8 Z" fill="#66ffff" stroke="none" stroke-width="1"/>
<path d="M206.6,455.6 L206.6,569.5 Q220.95,573.2 235.3,569.5 L235.3,455.6" fill="none" stroke="#000" stroke-width="1.1"/>
<path d="M237.8,506.0 L251.3,533.0 L237.8,561.3 Z" fill="#4fc860" stroke="none" stroke-width="1" opacity="0.6"/>
<rect x="258.20" y="517.10" width="4.00" height="30.40" fill="#231f20" stroke="#000" stroke-width="0.8"/>
<path d="M258.2,519.2 L255.2,519.2 Q252.1,519.2 252.1,524 L252.1,540.3 Q252.1,545.1 255.2,545.1 L258.2,545.1 Z" fill="#3cb64a" stroke="#000" stroke-width="0.8"/>
<path d="M175.5,442.8 L249.6,442.2 L262.4,454.9 L262.4,608.3 L188.2,608.3 L175.5,596.2 Z" fill="none" stroke="#000" stroke-width="1.0"/>
<line x1="188.20" y1="455.70" x2="188.20" y2="608.30" stroke="#000" stroke-width="1.0"/>
<path d="M204.3,437.0 L204.3,448.5 A16.55,2.6 0 0 0 237.4,448.5 L237.4,437.0 Z" fill="#2b2b2b" stroke="#000" stroke-width="0.9"/>
<ellipse cx="220.85" cy="437.0" rx="16.55" ry="2.6" fill="#333" stroke="#000" stroke-width="0.9"/>
<text x="294.80" y="401.60" font-size="17.5" font-weight="bold">d</text>
<text x="505.70" y="392.80" text-anchor="middle" font-size="10.4">Static Program</text>
<rect x="335.00" y="396.30" width="334.60" height="12.20" fill="#bfe5b2" stroke="#111" stroke-width="1.0"/>
<text x="505.70" y="419.10" text-anchor="middle" font-size="10.4">Pulse Program</text>
<rect x="334.20" y="422.00" width="10.30" height="13.10" fill="#000" stroke="#000" stroke-width="0.8"/>
<rect x="344.50" y="422.00" width="4.90" height="13.10" fill="#bfe5b2" stroke="#111" stroke-width="0.9"/>
<rect x="349.40" y="422.00" width="7.28" height="13.10" fill="#bfe5b2" stroke="#111" stroke-width="0.9"/>
<rect x="356.68" y="422.00" width="7.28" height="13.10" fill="#bfe5b2" stroke="#111" stroke-width="0.9"/>
<rect x="363.96" y="422.00" width="7.28" height="13.10" fill="#bfe5b2" stroke="#111" stroke-width="0.9"/>
<rect x="371.25" y="422.00" width="7.28" height="13.10" fill="#bfe5b2" stroke="#111" stroke-width="0.9"/>
<rect x="378.53" y="422.00" width="7.28" height="13.10" fill="#bfe5b2" stroke="#111" stroke-width="0.9"/>
<rect x="385.81" y="422.00" width="7.28" height="13.10" fill="#bfe5b2" stroke="#111" stroke-width="0.9"/>
<rect x="393.09" y="422.00" width="7.28" height="13.10" fill="#bfe5b2" stroke="#111" stroke-width="0.9"/>
<rect x="400.37" y="422.00" width="7.28" height="13.10" fill="#bfe5b2" stroke="#111" stroke-width="0.9"/>
<rect x="407.65" y="422.00" width="7.28" height="13.10" fill="#bfe5b2" stroke="#111" stroke-width="0.9"/>
<rect x="414.94" y="422.00" width="7.28" height="13.10" fill="#bfe5b2" stroke="#111" stroke-width="0.9"/>
<rect x="422.22" y="422.00" width="7.28" height="13.10" fill="#bfe5b2" stroke="#111" stroke-width="0.9"/>
<rect x="429.50" y="422.00" width="7.28" height="13.10" fill="#bfe5b2" stroke="#111" stroke-width="0.9"/>
<rect x="436.78" y="422.00" width="7.28" height="13.10" fill="#bfe5b2" stroke="#111" stroke-width="0.9"/>
<rect x="444.06" y="422.00" width="7.28" height="13.10" fill="#bfe5b2" stroke="#111" stroke-width="0.9"/>
<rect x="451.35" y="422.00" width="7.28" height="13.10" fill="#bfe5b2" stroke="#111" stroke-width="0.9"/>
<rect x="458.63" y="422.00" width="7.28" height="13.10" fill="#bfe5b2" stroke="#111" stroke-width="0.9"/>
<rect x="465.91" y="422.00" width="7.28" height="13.10" fill="#bfe5b2" stroke="#111" stroke-width="0.9"/>
<rect x="473.19" y="422.00" width="7.28" height="13.10" fill="#bfe5b2" stroke="#111" stroke-width="0.9"/>
<rect x="480.47" y="422.00" width="7.28" height="13.10" fill="#bfe5b2" stroke="#111" stroke-width="0.9"/>
<rect x="487.75" y="422.00" width="7.28" height="13.10" fill="#bfe5b2" stroke="#111" stroke-width="0.9"/>
<rect x="495.04" y="422.00" width="7.28" height="13.10" fill="#bfe5b2" stroke="#111" stroke-width="0.9"/>
<rect x="502.32" y="422.00" width="7.28" height="13.10" fill="#bfe5b2" stroke="#111" stroke-width="0.9"/>
<rect x="509.60" y="422.00" width="7.28" height="13.10" fill="#bfe5b2" stroke="#111" stroke-width="0.9"/>
<rect x="516.88" y="422.00" width="7.28" height="13.10" fill="#bfe5b2" stroke="#111" stroke-width="0.9"/>
<rect x="524.16" y="422.00" width="7.28" height="13.10" fill="#bfe5b2" stroke="#111" stroke-width="0.9"/>
<rect x="531.45" y="422.00" width="7.28" height="13.10" fill="#bfe5b2" stroke="#111" stroke-width="0.9"/>
<rect x="538.73" y="422.00" width="7.28" height="13.10" fill="#bfe5b2" stroke="#111" stroke-width="0.9"/>
<rect x="546.01" y="422.00" width="7.28" height="13.10" fill="#bfe5b2" stroke="#111" stroke-width="0.9"/>
<rect x="553.29" y="422.00" width="7.28" height="13.10" fill="#bfe5b2" stroke="#111" stroke-width="0.9"/>
<rect x="560.57" y="422.00" width="7.28" height="13.10" fill="#bfe5b2" stroke="#111" stroke-width="0.9"/>
<rect x="567.85" y="422.00" width="7.28" height="13.10" fill="#bfe5b2" stroke="#111" stroke-width="0.9"/>
<rect x="575.14" y="422.00" width="7.28" height="13.10" fill="#bfe5b2" stroke="#111" stroke-width="0.9"/>
<rect x="582.42" y="422.00" width="7.28" height="13.10" fill="#bfe5b2" stroke="#111" stroke-width="0.9"/>
<rect x="589.70" y="422.00" width="7.28" height="13.10" fill="#bfe5b2" stroke="#111" stroke-width="0.9"/>
<rect x="596.98" y="422.00" width="7.28" height="13.10" fill="#bfe5b2" stroke="#111" stroke-width="0.9"/>
<rect x="604.26" y="422.00" width="7.28" height="13.10" fill="#bfe5b2" stroke="#111" stroke-width="0.9"/>
<rect x="611.55" y="422.00" width="7.28" height="13.10" fill="#bfe5b2" stroke="#111" stroke-width="0.9"/>
<rect x="618.83" y="422.00" width="7.28" height="13.10" fill="#bfe5b2" stroke="#111" stroke-width="0.9"/>
<rect x="626.11" y="422.00" width="7.28" height="13.10" fill="#bfe5b2" stroke="#111" stroke-width="0.9"/>
<rect x="633.39" y="422.00" width="7.28" height="13.10" fill="#bfe5b2" stroke="#111" stroke-width="0.9"/>
<rect x="640.67" y="422.00" width="7.28" height="13.10" fill="#bfe5b2" stroke="#111" stroke-width="0.9"/>
<rect x="647.95" y="422.00" width="7.28" height="13.10" fill="#bfe5b2" stroke="#111" stroke-width="0.9"/>
<rect x="655.24" y="422.00" width="7.28" height="13.10" fill="#bfe5b2" stroke="#111" stroke-width="0.9"/>
<rect x="662.52" y="422.00" width="7.28" height="13.10" fill="#bfe5b2" stroke="#111" stroke-width="0.9"/>
<line x1="344.50" y1="435.00" x2="344.50" y2="440.50" stroke="#000" stroke-width="1.0"/>
<text x="341.50" y="449.00" font-size="10.4">Pulse start</text>
<path d="M343.4,454.2 L678.0,454.2 L678.0,619.8 L343.4,619.8 Z" fill="none" stroke="#000" stroke-width="1.2"/>
<line x1="338.20" y1="619.80" x2="343.40" y2="619.80" stroke="#000" stroke-width="1.0"/>
<text x="334.60" y="623.50" text-anchor="end" font-size="10.4">0</text>
<line x1="340.60" y1="613.18" x2="343.40" y2="613.18" stroke="#000" stroke-width="1.0"/>
<line x1="340.60" y1="606.55" x2="343.40" y2="606.55" stroke="#000" stroke-width="1.0"/>
<line x1="340.60" y1="599.93" x2="343.40" y2="599.93" stroke="#000" stroke-width="1.0"/>
<line x1="340.60" y1="593.30" x2="343.40" y2="593.30" stroke="#000" stroke-width="1.0"/>
<line x1="338.20" y1="586.68" x2="343.40" y2="586.68" stroke="#000" stroke-width="1.0"/>
<text x="334.60" y="590.38" text-anchor="end" font-size="10.4">25</text>
<line x1="340.60" y1="580.06" x2="343.40" y2="580.06" stroke="#000" stroke-width="1.0"/>
<line x1="340.60" y1="573.43" x2="343.40" y2="573.43" stroke="#000" stroke-width="1.0"/>
<line x1="340.60" y1="566.81" x2="343.40" y2="566.81" stroke="#000" stroke-width="1.0"/>
<line x1="340.60" y1="560.18" x2="343.40" y2="560.18" stroke="#000" stroke-width="1.0"/>
<line x1="338.20" y1="553.56" x2="343.40" y2="553.56" stroke="#000" stroke-width="1.0"/>
<text x="334.60" y="557.26" text-anchor="end" font-size="10.4">50</text>
<line x1="340.60" y1="546.94" x2="343.40" y2="546.94" stroke="#000" stroke-width="1.0"/>
<line x1="340.60" y1="540.31" x2="343.40" y2="540.31" stroke="#000" stroke-width="1.0"/>
<line x1="340.60" y1="533.69" x2="343.40" y2="533.69" stroke="#000" stroke-width="1.0"/>
<line x1="340.60" y1="527.06" x2="343.40" y2="527.06" stroke="#000" stroke-width="1.0"/>
<line x1="338.20" y1="520.44" x2="343.40" y2="520.44" stroke="#000" stroke-width="1.0"/>
<text x="334.60" y="524.14" text-anchor="end" font-size="10.4">75</text>
<line x1="340.60" y1="513.82" x2="343.40" y2="513.82" stroke="#000" stroke-width="1.0"/>
<line x1="340.60" y1="507.19" x2="343.40" y2="507.19" stroke="#000" stroke-width="1.0"/>
<line x1="340.60" y1="500.57" x2="343.40" y2="500.57" stroke="#000" stroke-width="1.0"/>
<line x1="340.60" y1="493.94" x2="343.40" y2="493.94" stroke="#000" stroke-width="1.0"/>
<line x1="338.20" y1="487.32" x2="343.40" y2="487.32" stroke="#000" stroke-width="1.0"/>
<text x="334.60" y="491.02" text-anchor="end" font-size="10.4">100</text>
<line x1="340.60" y1="480.70" x2="343.40" y2="480.70" stroke="#000" stroke-width="1.0"/>
<line x1="340.60" y1="474.07" x2="343.40" y2="474.07" stroke="#000" stroke-width="1.0"/>
<line x1="340.60" y1="467.45" x2="343.40" y2="467.45" stroke="#000" stroke-width="1.0"/>
<line x1="340.60" y1="460.82" x2="343.40" y2="460.82" stroke="#000" stroke-width="1.0"/>
<line x1="338.20" y1="454.20" x2="343.40" y2="454.20" stroke="#000" stroke-width="1.0"/>
<text x="334.60" y="457.90" text-anchor="end" font-size="10.4">125</text>
<line x1="343.40" y1="619.80" x2="343.40" y2="624.60" stroke="#000" stroke-width="1.0"/>
<text x="343.70" y="635.50" text-anchor="middle" font-size="10.4">0</text>
<line x1="350.83" y1="619.80" x2="350.83" y2="622.10" stroke="#000" stroke-width="1.0"/>
<line x1="358.25" y1="619.80" x2="358.25" y2="622.10" stroke="#000" stroke-width="1.0"/>
<line x1="365.68" y1="619.80" x2="365.68" y2="622.10" stroke="#000" stroke-width="1.0"/>
<line x1="373.11" y1="619.80" x2="373.11" y2="622.10" stroke="#000" stroke-width="1.0"/>
<line x1="380.53" y1="619.80" x2="380.53" y2="624.60" stroke="#000" stroke-width="1.0"/>
<text x="380.83" y="635.50" text-anchor="middle" font-size="10.4">25</text>
<line x1="387.96" y1="619.80" x2="387.96" y2="622.10" stroke="#000" stroke-width="1.0"/>
<line x1="395.39" y1="619.80" x2="395.39" y2="622.10" stroke="#000" stroke-width="1.0"/>
<line x1="402.82" y1="619.80" x2="402.82" y2="622.10" stroke="#000" stroke-width="1.0"/>
<line x1="410.24" y1="619.80" x2="410.24" y2="622.10" stroke="#000" stroke-width="1.0"/>
<line x1="417.67" y1="619.80" x2="417.67" y2="624.60" stroke="#000" stroke-width="1.0"/>
<text x="417.97" y="635.50" text-anchor="middle" font-size="10.4">50</text>
<line x1="425.10" y1="619.80" x2="425.10" y2="622.10" stroke="#000" stroke-width="1.0"/>
<line x1="432.52" y1="619.80" x2="432.52" y2="622.10" stroke="#000" stroke-width="1.0"/>
<line x1="439.95" y1="619.80" x2="439.95" y2="622.10" stroke="#000" stroke-width="1.0"/>
<line x1="447.38" y1="619.80" x2="447.38" y2="622.10" stroke="#000" stroke-width="1.0"/>
<line x1="454.80" y1="619.80" x2="454.80" y2="624.60" stroke="#000" stroke-width="1.0"/>
<text x="455.10" y="635.50" text-anchor="middle" font-size="10.4">75</text>
<line x1="462.23" y1="619.80" x2="462.23" y2="622.10" stroke="#000" stroke-width="1.0"/>
<line x1="469.66" y1="619.80" x2="469.66" y2="622.10" stroke="#000" stroke-width="1.0"/>
<line x1="477.09" y1="619.80" x2="477.09" y2="622.10" stroke="#000" stroke-width="1.0"/>
<line x1="484.51" y1="619.80" x2="484.51" y2="622.10" stroke="#000" stroke-width="1.0"/>
<line x1="491.94" y1="619.80" x2="491.94" y2="624.60" stroke="#000" stroke-width="1.0"/>
<text x="492.24" y="635.50" text-anchor="middle" font-size="10.4">100</text>
<line x1="499.37" y1="619.80" x2="499.37" y2="622.10" stroke="#000" stroke-width="1.0"/>
<line x1="506.79" y1="619.80" x2="506.79" y2="622.10" stroke="#000" stroke-width="1.0"/>
<line x1="514.22" y1="619.80" x2="514.22" y2="622.10" stroke="#000" stroke-width="1.0"/>
<line x1="521.65" y1="619.80" x2="521.65" y2="622.10" stroke="#000" stroke-width="1.0"/>
<line x1="529.08" y1="619.80" x2="529.08" y2="624.60" stroke="#000" stroke-width="1.0"/>
<text x="529.38" y="635.50" text-anchor="middle" font-size="10.4">125</text>
<line x1="536.50" y1="619.80" x2="536.50" y2="622.10" stroke="#000" stroke-width="1.0"/>
<line x1="543.93" y1="619.80" x2="543.93" y2="622.10" stroke="#000" stroke-width="1.0"/>
<line x1="551.36" y1="619.80" x2="551.36" y2="622.10" stroke="#000" stroke-width="1.0"/>
<line x1="558.78" y1="619.80" x2="558.78" y2="622.10" stroke="#000" stroke-width="1.0"/>
<line x1="566.21" y1="619.80" x2="566.21" y2="624.60" stroke="#000" stroke-width="1.0"/>
<text x="566.51" y="635.50" text-anchor="middle" font-size="10.4">150</text>
<line x1="573.64" y1="619.80" x2="573.64" y2="622.10" stroke="#000" stroke-width="1.0"/>
<line x1="581.06" y1="619.80" x2="581.06" y2="622.10" stroke="#000" stroke-width="1.0"/>
<line x1="588.49" y1="619.80" x2="588.49" y2="622.10" stroke="#000" stroke-width="1.0"/>
<line x1="595.92" y1="619.80" x2="595.92" y2="622.10" stroke="#000" stroke-width="1.0"/>
<line x1="603.35" y1="619.80" x2="603.35" y2="624.60" stroke="#000" stroke-width="1.0"/>
<text x="603.64" y="635.50" text-anchor="middle" font-size="10.4">175</text>
<line x1="610.77" y1="619.80" x2="610.77" y2="622.10" stroke="#000" stroke-width="1.0"/>
<line x1="618.20" y1="619.80" x2="618.20" y2="622.10" stroke="#000" stroke-width="1.0"/>
<line x1="625.63" y1="619.80" x2="625.63" y2="622.10" stroke="#000" stroke-width="1.0"/>
<line x1="633.05" y1="619.80" x2="633.05" y2="622.10" stroke="#000" stroke-width="1.0"/>
<line x1="640.48" y1="619.80" x2="640.48" y2="624.60" stroke="#000" stroke-width="1.0"/>
<text x="640.78" y="635.50" text-anchor="middle" font-size="10.4">200</text>
<line x1="647.91" y1="619.80" x2="647.91" y2="622.10" stroke="#000" stroke-width="1.0"/>
<line x1="655.33" y1="619.80" x2="655.33" y2="622.10" stroke="#000" stroke-width="1.0"/>
<line x1="662.76" y1="619.80" x2="662.76" y2="622.10" stroke="#000" stroke-width="1.0"/>
<line x1="670.19" y1="619.80" x2="670.19" y2="622.10" stroke="#000" stroke-width="1.0"/>
<line x1="677.62" y1="619.80" x2="677.62" y2="624.60" stroke="#000" stroke-width="1.0"/>
<text x="677.91" y="635.50" text-anchor="middle" font-size="10.4">225</text>
<text x="510.50" y="648.20" text-anchor="middle" font-size="10.4">Time (h)</text>
<text transform="translate(315.50,539.00) rotate(-90)" text-anchor="middle" font-size="10.4"><tspan font-style="italic">p</tspan>-CA Titer (mg/L)</text>
<path d="M352.31,619.80 L387.96,566.81 L423.61,567.07 L459.26,556.08 L494.91,530.11 L530.56,521.10 L566.21,513.15 L601.86,511.30 L637.51,503.22 L673.16,503.22" fill="none" stroke="#000" stroke-width="1.3" stroke-dasharray="4.8,2.6"/>
<path d="M352.31,619.80 L387.96,583.50 L423.61,584.03 L459.26,582.44 L494.91,572.37 L530.56,572.90 L566.21,573.96 L601.86,573.56 L637.51,573.56 L673.16,573.56" fill="none" stroke="#000" stroke-width="1.3"/>
<circle cx="387.96" cy="551.31" r="2.9" fill="#2a2a2a"/>
<circle cx="387.96" cy="582.04" r="2.9" fill="#2a2a2a"/>
<circle cx="423.61" cy="554.49" r="2.9" fill="#2a2a2a"/>
<circle cx="423.61" cy="578.73" r="2.9" fill="#2a2a2a"/>
<circle cx="459.26" cy="542.56" r="2.9" fill="#2a2a2a"/>
<circle cx="459.26" cy="570.38" r="2.9" fill="#2a2a2a"/>
<circle cx="494.91" cy="515.80" r="2.9" fill="#2a2a2a"/>
<circle cx="494.91" cy="545.48" r="2.9" fill="#2a2a2a"/>
<circle cx="530.56" cy="507.19" r="2.9" fill="#2a2a2a"/>
<circle cx="530.56" cy="535.28" r="2.9" fill="#2a2a2a"/>
<circle cx="566.21" cy="500.83" r="2.9" fill="#2a2a2a"/>
<circle cx="566.21" cy="526.93" r="2.9" fill="#2a2a2a"/>
<circle cx="601.86" cy="501.63" r="2.9" fill="#2a2a2a"/>
<circle cx="601.86" cy="521.10" r="2.9" fill="#2a2a2a"/>
<circle cx="637.51" cy="491.16" r="2.9" fill="#2a2a2a"/>
<circle cx="637.51" cy="515.94" r="2.9" fill="#2a2a2a"/>
<circle cx="673.16" cy="491.96" r="2.9" fill="#2a2a2a"/>
<circle cx="673.16" cy="515.14" r="2.9" fill="#2a2a2a"/>
<circle cx="352.31" cy="619.80" r="2.2" fill="#fff" fill-opacity="0.75" stroke="#222" stroke-width="1.2"/>
<circle cx="387.96" cy="581.91" r="2.2" fill="#fff" fill-opacity="0.75" stroke="#222" stroke-width="1.2"/>
<circle cx="387.96" cy="583.24" r="2.2" fill="#fff" fill-opacity="0.75" stroke="#222" stroke-width="1.2"/>
<circle cx="423.61" cy="580.06" r="2.2" fill="#fff" fill-opacity="0.75" stroke="#222" stroke-width="1.2"/>
<circle cx="423.61" cy="586.42" r="2.2" fill="#fff" fill-opacity="0.75" stroke="#222" stroke-width="1.2"/>
<circle cx="459.26" cy="576.88" r="2.2" fill="#fff" fill-opacity="0.75" stroke="#222" stroke-width="1.2"/>
<circle cx="459.26" cy="587.87" r="2.2" fill="#fff" fill-opacity="0.75" stroke="#222" stroke-width="1.2"/>
<circle cx="494.91" cy="567.07" r="2.2" fill="#fff" fill-opacity="0.75" stroke="#222" stroke-width="1.2"/>
<circle cx="494.91" cy="577.27" r="2.2" fill="#fff" fill-opacity="0.75" stroke="#222" stroke-width="1.2"/>
<circle cx="530.56" cy="568.27" r="2.2" fill="#fff" fill-opacity="0.75" stroke="#222" stroke-width="1.2"/>
<circle cx="530.56" cy="577.67" r="2.2" fill="#fff" fill-opacity="0.75" stroke="#222" stroke-width="1.2"/>
<circle cx="566.21" cy="569.72" r="2.2" fill="#fff" fill-opacity="0.75" stroke="#222" stroke-width="1.2"/>
<circle cx="566.21" cy="578.47" r="2.2" fill="#fff" fill-opacity="0.75" stroke="#222" stroke-width="1.2"/>
<circle cx="601.86" cy="568.53" r="2.2" fill="#fff" fill-opacity="0.75" stroke="#222" stroke-width="1.2"/>
<circle cx="601.86" cy="578.73" r="2.2" fill="#fff" fill-opacity="0.75" stroke="#222" stroke-width="1.2"/>
<circle cx="637.51" cy="568.27" r="2.2" fill="#fff" fill-opacity="0.75" stroke="#222" stroke-width="1.2"/>
<circle cx="637.51" cy="578.73" r="2.2" fill="#fff" fill-opacity="0.75" stroke="#222" stroke-width="1.2"/>
<circle cx="673.16" cy="568.53" r="2.2" fill="#fff" fill-opacity="0.75" stroke="#222" stroke-width="1.2"/>
<circle cx="673.16" cy="578.73" r="2.2" fill="#fff" fill-opacity="0.75" stroke="#222" stroke-width="1.2"/>
<circle cx="358.1" cy="468.4" r="2.9" fill="#2a2a2a"/>
<circle cx="358.1" cy="482.7" r="2.2" fill="#fff" stroke="#222" stroke-width="1.2"/>
<line x1="352.80" y1="496.90" x2="364.00" y2="496.90" stroke="#000" stroke-width="1.3" stroke-dasharray="4.8,2.6"/>
<line x1="352.00" y1="511.20" x2="364.40" y2="511.20" stroke="#000" stroke-width="1.3"/>
<text x="372.40" y="472.10" font-size="10.4">Pulse replicates</text>
<text x="372.40" y="486.40" font-size="10.4">Static replicates</text>
<text x="372.40" y="500.60" font-size="10.4">Pulse mean</text>
<text x="372.40" y="514.90" font-size="10.4">Static mean</text>
</svg>
</body></html>
